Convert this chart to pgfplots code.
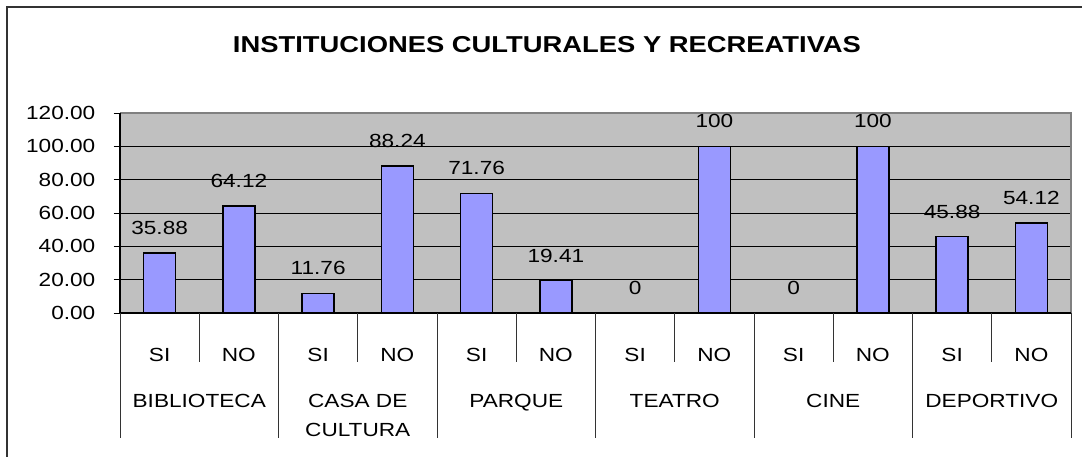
\documentclass[border=0pt]{standalone}
\usepackage{fontspec}
\setmainfont{Liberation Sans}[FakeStretch=1.19]
\usepackage{pgfplots}
\pgfplotsset{compat=1.18}
\usepackage{pgfplotstable}
\definecolor{barblue}{HTML}{9999FF}
\definecolor{plotgray}{HTML}{C0C0C0}

\pgfplotstableread{
x y label
0.5 35.88 35.88
1.5 64.12 64.12
2.5 11.76 11.76
3.5 88.24 88.24
4.5 71.76 71.76
5.5 19.41 19.41
6.5 0 0
7.5 100 100
8.5 0 0
9.5 100 100
10.5 45.88 45.88
11.5 54.12 54.12
}\datatable

\begin{document}
\begin{tikzpicture}
\useasboundingbox (0,0) rectangle (1082pt,456pt);
\fill[white] (0,0) rectangle (1082pt,456pt);
\draw[line width=1.5pt, black!80] (7pt,-2pt) -- (7pt,449pt) -- (1084pt,449pt);
\node[font=\fontsize{23}{27}\selectfont\bfseries] at (547pt,411pt) {INSTITUCIONES CULTURALES Y RECREATIVAS};
\begin{axis}[
  at={(120pt,143pt)}, anchor=south west,
  scale only axis, width=951pt, height=200pt,
  xmin=0, xmax=12, ymin=0, ymax=120,
  enlargelimits=false,
  clip=false,
  axis background/.style={fill=plotgray},
  axis line style={draw=none},
  ytick={0,20,40,60,80,100,120},
  ymajorgrids, grid style={black, line width=0.8pt},
  tick align=outside,
  major tick length=6.5pt,
  y tick style={black, line width=0.8pt},
  x tick style={draw=none},
  ytick pos=left,
  xtick pos=bottom,
  /pgf/number format/fixed,
  /pgf/number format/fixed zerofill,
  /pgf/number format/precision=2,
  /pgf/number format/assume math mode=true,
  yticklabel style={anchor=east, inner sep=0pt, xshift=-18pt, font=\fontsize{19}{22}\selectfont},
  xtick={0.5,1.5,2.5,3.5,4.5,5.5,6.5,7.5,8.5,9.5,10.5,11.5},
  xticklabels={SI,NO,SI,NO,SI,NO,SI,NO,SI,NO,SI,NO},
  xticklabel style={anchor=base, inner sep=0pt, yshift=-42pt, font=\fontsize{19}{29}\selectfont},
  extra x ticks={1,3,5,7,9,11},
  extra x tick labels={{BIBLIOTECA\\\mbox{}},{CASA DE\\CULTURA},{PARQUE\\\mbox{}},{TEATRO\\\mbox{}},{CINE\\\mbox{}},{DEPORTIVO\\\mbox{}}},
  extra x tick style={grid=none, xticklabel style={align=center, yshift=-74.5pt}},
]
\addplot[ybar, bar width=32pt, fill=barblue, draw=black, line width=1.6pt,
  nodes near coords, point meta=explicit symbolic,
  every node near coord/.append style={anchor=base, yshift=18.5pt, inner sep=0pt, black, font=\fontsize{19}{22}\selectfont}]
  table[x=x, y=y, meta=label]{\datatable};
\draw[gray, line width=1.3pt] (rel axis cs:0,1) -- (rel axis cs:1,1) -- (rel axis cs:1,0);
\draw[black, line width=1.3pt] (rel axis cs:0,1) -- (rel axis cs:0,0) -- (rel axis cs:1,0);
\draw[black!80, line width=0.8pt] (axis cs:1,0) -- ++(0,-49pt);
\draw[black!80, line width=0.8pt] (axis cs:3,0) -- ++(0,-49pt);
\draw[black!80, line width=0.8pt] (axis cs:5,0) -- ++(0,-49pt);
\draw[black!80, line width=0.8pt] (axis cs:7,0) -- ++(0,-49pt);
\draw[black!80, line width=0.8pt] (axis cs:9,0) -- ++(0,-49pt);
\draw[black!80, line width=0.8pt] (axis cs:11,0) -- ++(0,-49pt);
\draw[black!80, line width=0.8pt] (axis cs:0,0) -- ++(0,-125pt);
\draw[black!80, line width=0.8pt] (axis cs:2,0) -- ++(0,-125pt);
\draw[black!80, line width=0.8pt] (axis cs:4,0) -- ++(0,-125pt);
\draw[black!80, line width=0.8pt] (axis cs:6,0) -- ++(0,-125pt);
\draw[black!80, line width=0.8pt] (axis cs:8,0) -- ++(0,-125pt);
\draw[black!80, line width=0.8pt] (axis cs:10,0) -- ++(0,-125pt);
\draw[black!80, line width=0.8pt] (axis cs:12,0) -- ++(0,-125pt);
\end{axis}
\end{tikzpicture}
\end{document}
